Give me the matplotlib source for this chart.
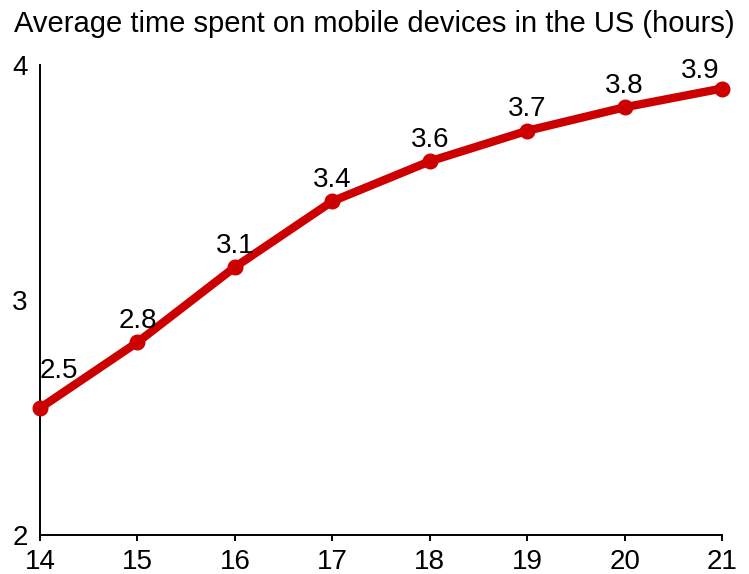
import matplotlib.pyplot as plt

years = [14, 15, 16, 17, 18, 19, 20, 21]
hours = [2.54, 2.82, 3.14, 3.42, 3.59, 3.72, 3.82, 3.90]
yticks = [2, 3, 4]

plt.rcParams['font.family'] = ['Liberation Sans', 'DejaVu Sans']

fig = plt.figure(figsize=(7.49, 5.74), dpi=100)
ax = fig.add_axes([40 / 749, 39 / 574, 682 / 749, 470 / 574])

red = '#cc0000'
ax.plot(years, hours, color=red, lw=6, marker='o', ms=10.5,
        solid_capstyle='round', clip_on=False, zorder=3)

# value labels above each point; the end ones are nudged inward
for i, (x, y) in enumerate(zip(years, hours)):
    ha, dx, dy = 'center', 0, 10.5
    if i == 0:
        ha, dx, dy = 'left', 0, 21.5
    elif i == len(years) - 1:
        ha, dx, dy = 'right', -2, 7.5
    ax.annotate(f'{y:.1f}', (x, y), xytext=(dx, dy), textcoords='offset points',
                ha=ha, va='baseline', fontsize=20, color='black')

ax.set_xlim(14, 21)
ax.set_ylim(2, 4)
ax.set_xticks(years)
ax.set_yticks(yticks)
ax.tick_params(axis='x', length=4, width=1.4, direction='out', pad=6, labelsize=20)
ax.tick_params(axis='y', length=0, pad=9, labelsize=20)

for side in ['top', 'right']:
    ax.spines[side].set_visible(False)
for side in ['left', 'bottom']:
    ax.spines[side].set_linewidth(1.4)
    ax.spines[side].set_color('black')

fig.text(14 / 749, 1 - 32 / 574, 'Average time spent on mobile devices in the US (hours)',
         fontsize=21, ha='left', va='baseline')

fig.savefig('out.png', dpi=100)
